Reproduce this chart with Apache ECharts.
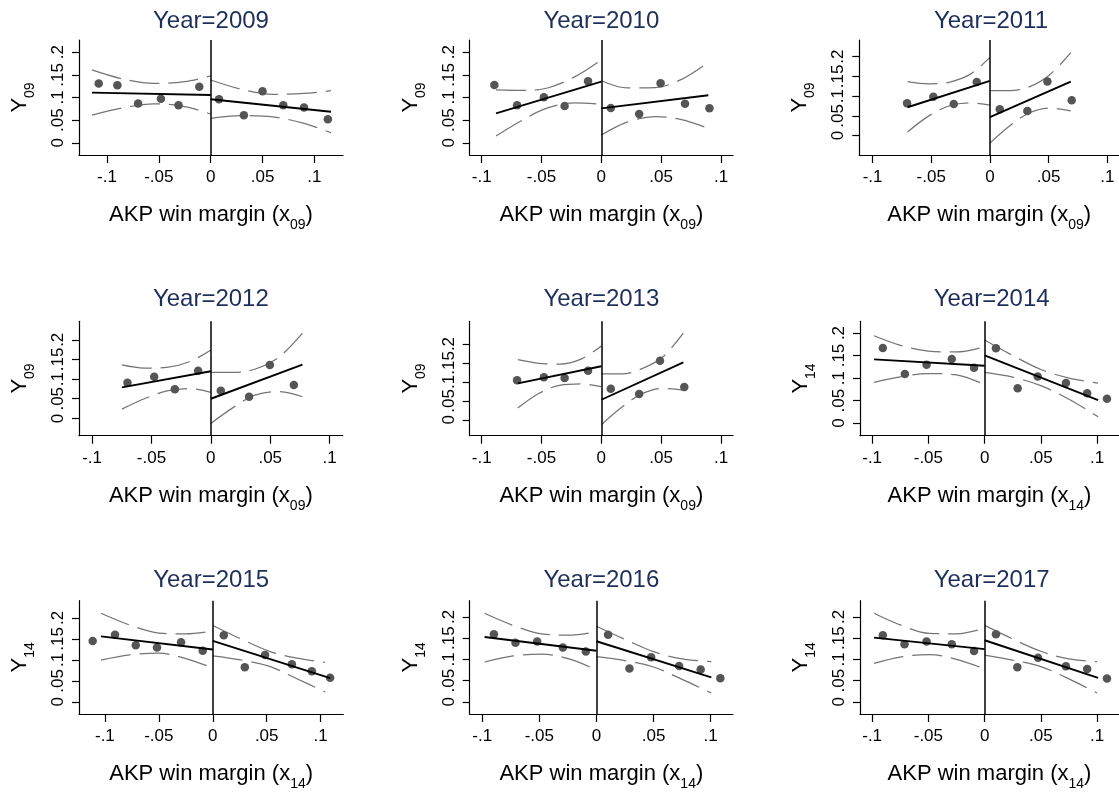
<!DOCTYPE html>
<html><head><meta charset="utf-8">
<script src="https://cdn.jsdelivr.net/npm/echarts@6/dist/echarts.min.js"></script>
<style>html,body{margin:0;padding:0;background:#fff}#c{width:1119px;height:792px}</style>
</head><body><div id="c"></div>
<script>
// ---------------- DATA ----------------
const years = ['2009','2010','2011','2012','2013','2014','2015','2016','2017'];
const subs  = ['09','09','09','09','09','14','14','14','14'];
const xTicks = [-0.1, -0.05, 0, 0.05, 0.1];
const yTicks = [0, 0.05, 0.1, 0.15, 0.2];

// 2009
const pts2009 = [[-0.108,0.131],[-0.090,0.127],[-0.070,0.087],[-0.048,0.097],[-0.031,0.083],[-0.011,0.124],[0.008,0.096],[0.032,0.061],[0.050,0.114],[0.070,0.083],[0.090,0.078],[0.113,0.052]];
const fitL2009 = [[-0.1145,0.1107],[0,0.1055]];
const fitR2009 = [[0,0.096],[0.116,0.0686]];
const upL2009 = [[-0.1145,0.161],[-0.085,0.141],[-0.055,0.131],[-0.025,0.135],[0,0.1476]];
const loL2009 = [[-0.1145,0.0613],[-0.085,0.077],[-0.055,0.086],[-0.025,0.080],[0,0.0635]];
const upR2009 = [[0,0.1387],[0.03,0.118],[0.06,0.107],[0.09,0.109],[0.116,0.115]];
const loR2009 = [[0,0.054],[0.03,0.060],[0.06,0.057],[0.09,0.043],[0.116,0.022]];
// 2010
const pts2010 = [[-0.0894,0.1277],[-0.0704,0.0827],[-0.048,0.1004],[-0.0307,0.0812],[-0.0111,0.1358],[0.0079,0.0768],[0.0316,0.0635],[0.0495,0.1314],[0.0699,0.0863],[0.0903,0.0761]];
const fitL2010 = [[-0.088,0.065],[0,0.135]];
const fitR2010 = [[0,0.0761],[0.0894,0.1049]];
const upL2010 = [[-0.088,0.1166],[-0.066,0.1155],[-0.045,0.121],[-0.022,0.146],[0,0.183]];
const loL2010 = [[-0.088,0.0148],[-0.066,0.050],[-0.045,0.077],[-0.022,0.088],[0,0.085]];
const upR2010 = [[0,0.137],[0.022,0.121],[0.045,0.122],[0.067,0.140],[0.0894,0.178]];
const loR2010 = [[0,0.017],[0.022,0.046],[0.045,0.058],[0.067,0.051],[0.0894,0.0318]];
// 2011
const pts2011 = [[-0.0706,0.082],[-0.0482,0.0987],[-0.0308,0.080],[-0.0112,0.136],[0.0084,0.0668],[0.0319,0.0625],[0.049,0.1367],[0.0697,0.0896]];
const fitL2011 = [[-0.0702,0.0719],[0,0.1385]];
const fitR2011 = [[0,0.0466],[0.0689,0.1367]];
const upL2011 = [[-0.0702,0.1367],[-0.052,0.131],[-0.035,0.135],[-0.017,0.155],[0,0.198]];
const loL2011 = [[-0.0702,0.0094],[-0.052,0.050],[-0.035,0.075],[-0.017,0.083],[0,0.077]];
const upR2011 = [[0,0.114],[0.017,0.114],[0.034,0.124],[0.051,0.154],[0.0689,0.21]];
const loR2011 = [[0,-0.019],[0.017,0.025],[0.034,0.058],[0.051,0.070],[0.0689,0.0625]];
// 2012
const pts2012 = [[-0.0702,0.0908],[-0.0477,0.106],[-0.0303,0.074],[-0.0107,0.1214],[0.0084,0.0704],[0.0322,0.0551],[0.0497,0.136],[0.0699,0.085]];
const fitL2012 = [[-0.0749,0.079],[0,0.1199]];
const fitR2012 = [[0,0.050],[0.0771,0.1367]];
const upL2012 = [[-0.0749,0.136],[-0.056,0.128],[-0.037,0.130],[-0.018,0.144],[0,0.1742]];
const loL2012 = [[-0.0749,0.0237],[-0.056,0.050],[-0.037,0.070],[-0.018,0.076],[0,0.0663]];
const upR2012 = [[0,0.1173],[0.019,0.117],[0.037,0.125],[0.057,0.155],[0.0771,0.2168]];
const loR2012 = [[0,-0.0128],[0.019,0.028],[0.037,0.059],[0.057,0.068],[0.0771,0.0551]];
// 2013
const pts2013 = [[-0.0704,0.1042],[-0.048,0.1122],[-0.0307,0.1103],[-0.0111,0.1296],[0.0079,0.082],[0.0316,0.068],[0.049,0.156],[0.0693,0.0865]];
const fitL2013 = [[-0.0698,0.0963],[0,0.1413]];
const fitR2013 = [[0,0.0529],[0.0685,0.1518]];
const upL2013 = [[-0.0698,0.1587],[-0.052,0.149],[-0.035,0.147],[-0.017,0.160],[0,0.195]];
const loL2013 = [[-0.0698,0.031],[-0.052,0.070],[-0.035,0.091],[-0.017,0.095],[0,0.0873]];
const upR2013 = [[0,0.121],[0.017,0.121],[0.034,0.135],[0.051,0.165],[0.0685,0.2286]];
const loR2013 = [[0,-0.013],[0.017,0.033],[0.034,0.069],[0.051,0.083],[0.0685,0.0786]];
// 2014
const pts2014 = [[-0.0905,0.1667],[-0.0709,0.1089],[-0.0516,0.1296],[-0.0292,0.1422],[-0.0094,0.1229],[0.0101,0.166],[0.0294,0.0771],[0.0472,0.1037],[0.0723,0.0889],[0.0912,0.066],[0.1088,0.054]];
const fitL2014 = [[-0.0983,0.1415],[0,0.1274]];
const fitR2014 = [[0,0.1504],[0.1009,0.0511]];
const upL2014 = [[-0.0983,0.194],[-0.074,0.172],[-0.05,0.160],[-0.025,0.158],[0,0.1696]];
const loL2014 = [[-0.0983,0.0904],[-0.074,0.103],[-0.05,0.110],[-0.025,0.107],[0,0.0852]];
const upR2014 = [[0,0.1844],[0.025,0.150],[0.05,0.119],[0.075,0.100],[0.1009,0.0889]];
const loR2014 = [[0,0.1126],[0.025,0.102],[0.05,0.083],[0.075,0.053],[0.1009,0.014]];
// 2015
const pts2015 = [[-0.1113,0.1451],[-0.0906,0.160],[-0.0714,0.1349],[-0.0517,0.1294],[-0.0294,0.1419],[-0.0093,0.1216],[0.0102,0.1584],[0.0297,0.0824],[0.0485,0.1114],[0.0733,0.0894],[0.0918,0.073],[0.1088,0.0573]];
const fitL2015 = [[-0.1036,0.156],[0,0.1247]];
const fitR2015 = [[0,0.1451],[0.1088,0.0565]];
const upL2015 = [[-0.1036,0.211],[-0.077,0.183],[-0.05,0.164],[-0.025,0.162],[0,0.1686]];
const loL2015 = [[-0.1036,0.0996],[-0.077,0.112],[-0.05,0.116],[-0.025,0.103],[0,0.0808]];
const upR2015 = [[0,0.182],[0.026,0.150],[0.052,0.121],[0.078,0.104],[0.1042,0.0941]];
const loR2015 = [[0,0.1098],[0.026,0.100],[0.052,0.085],[0.078,0.055],[0.1042,0.0235]];
// 2016
const pts2016 = [[-0.0898,0.1588],[-0.0709,0.1388],[-0.0519,0.1419],[-0.0294,0.1279],[-0.0093,0.1186],[0.0102,0.1581],[0.0289,0.0783],[0.0479,0.1047],[0.0724,0.0845],[0.0913,0.076],[0.1085,0.0558]];
const fitL2016 = [[-0.098,0.1527],[0,0.1202]];
const fitR2016 = [[0,0.1426],[0.1006,0.0574]];
const upL2016 = [[-0.098,0.2085],[-0.073,0.180],[-0.048,0.160],[-0.024,0.157],[0,0.165]];
const loL2016 = [[-0.098,0.0938],[-0.073,0.108],[-0.048,0.112],[-0.024,0.101],[0,0.0752]];
const upR2016 = [[0,0.178],[0.025,0.147],[0.05,0.118],[0.075,0.101],[0.1006,0.0946]];
const loR2016 = [[0,0.1062],[0.025,0.097],[0.05,0.082],[0.075,0.053],[0.1006,0.0209]];
// 2017
const pts2017 = [[-0.0905,0.1566],[-0.0712,0.1357],[-0.0516,0.1419],[-0.0292,0.1357],[-0.0094,0.1194],[0.0101,0.1589],[0.0291,0.0814],[0.0475,0.104],[0.0723,0.0837],[0.0912,0.0775],[0.1088,0.055]];
const fitL2017 = [[-0.0983,0.151],[0,0.124]];
const fitR2017 = [[0,0.145],[0.1009,0.0566]];
const upL2017 = [[-0.0983,0.2085],[-0.074,0.180],[-0.049,0.161],[-0.025,0.160],[0,0.1729]];
const loL2017 = [[-0.0983,0.0907],[-0.074,0.106],[-0.049,0.111],[-0.025,0.100],[0,0.0775]];
const upR2017 = [[0,0.1798],[0.025,0.148],[0.05,0.119],[0.075,0.101],[0.100,0.0946]];
const loR2017 = [[0,0.110],[0.025,0.098],[0.05,0.083],[0.075,0.054],[0.100,0.0209]];

const panelData = [
  [pts2009, fitL2009, fitR2009, upL2009, loL2009, upR2009, loR2009],
  [pts2010, fitL2010, fitR2010, upL2010, loL2010, upR2010, loR2010],
  [pts2011, fitL2011, fitR2011, upL2011, loL2011, upR2011, loR2011],
  [pts2012, fitL2012, fitR2012, upL2012, loL2012, upR2012, loR2012],
  [pts2013, fitL2013, fitR2013, upL2013, loL2013, upR2013, loR2013],
  [pts2014, fitL2014, fitR2014, upL2014, loL2014, upR2014, loR2014],
  [pts2015, fitL2015, fitR2015, upL2015, loL2015, upR2015, loR2015],
  [pts2016, fitL2016, fitR2016, upL2016, loL2016, upR2016, loR2016],
  [pts2017, fitL2017, fitR2017, upL2017, loL2017, upR2017, loR2017]
];

// ---------------- LAYOUT ----------------
// [left, top, width, height, xMin, xMax, yMin, yMax]
const layout = [
  [79,    40,    264,   115,   -0.127,  0.1276, -0.027, 0.227],
  [469.7, 40,    263.3, 115,   -0.110,  0.110,  -0.027, 0.227],
  [859.3, 40,    263.3, 115,   -0.1113, 0.110,  -0.049, 0.242],
  [79,    321.3, 263.7, 114.4, -0.111,  0.111,  -0.044, 0.247],
  [469.7, 321.3, 263.3, 114.4, -0.110,  0.110,  -0.042, 0.260],
  [860,   321.3, 263.3, 114.4, -0.1108, 0.1195, -0.028, 0.226],
  [79,    600.7, 264.3, 114.6, -0.124,  0.121,  -0.029, 0.241],
  [469.7, 600.7, 263.3, 114.6, -0.111,  0.1196, -0.0286, 0.238],
  [860,   600.7, 263.3, 114.6, -0.1108, 0.1195, -0.0286, 0.238]
];
const titleY = [21.7, 299.8, 580.8];

const FONT = '"Liberation Sans", Arial, Helvetica, sans-serif';
const fmt = v => v === 0 ? '0' : (v < 0 ? '-' : '') + String(Math.abs(v)).replace(/^0/, '');
const subRich = { s: { fontSize: 14, lineHeight: 34, verticalAlign: 'bottom', fontFamily: FONT, color: '#000' } };

const grids = [], xAxes = [], yAxes = [], series = [], graphics = [];
layout.forEach((L, i) => {
  const [left, top, width, height, xMin, xMax, yMin, yMax] = L;
  grids.push({ left, top, width, height, containLabel: false });
  xAxes.push({
    type: 'value', gridIndex: i, min: xMin, max: xMax,
    axisLine: { onZero: false, lineStyle: { color: '#000', width: 1.2 } },
    axisTick: { show: true, length: 8, customValues: xTicks, lineStyle: { color: '#000', width: 1.2 } },
    axisLabel: { customValues: xTicks, formatter: fmt, fontSize: 17, fontFamily: FONT, color: '#000', margin: 14 },
    splitLine: { show: false },
    name: 'AKP win margin (x{s|' + subs[i] + '})', nameLocation: 'middle', nameGap: 43,
    nameTextStyle: { fontSize: 22, fontFamily: FONT, color: '#000', rich: subRich }
  });
  yAxes.push({
    type: 'value', gridIndex: i, min: yMin, max: yMax,
    axisLine: { onZero: false, lineStyle: { color: '#000', width: 1.2 } },
    axisTick: { show: true, length: 7, customValues: yTicks, lineStyle: { color: '#000', width: 1.2 } },
    axisLabel: { customValues: yTicks, formatter: fmt, fontSize: 17, fontFamily: FONT, color: '#000', rotate: 90, margin: 12 },
    splitLine: { show: false },
    name: 'Y{s|' + subs[i] + '}', nameLocation: 'middle', nameGap: 42, nameRotate: 90,
    nameTextStyle: { fontSize: 22, fontFamily: FONT, color: '#000', rich: subRich }
  });
  const [pts, fitL, fitR, upL, loL, upR, loR] = panelData[i];
  const ci = d => ({ type: 'line', xAxisIndex: i, yAxisIndex: i, data: d, smooth: 0.35, symbol: 'none',
    lineStyle: { color: '#747474', width: 1.25, type: [30, 9] }, z: 2, silent: true });
  const fit = d => ({ type: 'line', xAxisIndex: i, yAxisIndex: i, data: d, symbol: 'none',
    lineStyle: { color: '#000', width: 1.9 }, z: 4, silent: true });
  series.push({
    type: 'scatter', xAxisIndex: i, yAxisIndex: i, data: pts, symbolSize: 8.5,
    itemStyle: { color: '#555555', opacity: 1 }, z: 3,
    markLine: { silent: true, symbol: ['none', 'none'], label: { show: false },
      lineStyle: { color: '#000', width: 1.5, type: 'solid' }, data: [{ xAxis: 0 }] }
  });
  series.push(fit(fitL), fit(fitR), ci(upL), ci(loL), ci(upR), ci(loR));
  graphics.push({
    type: 'text', x: left + width / 2, y: titleY[Math.floor(i / 3)],
    style: { text: 'Year=' + years[i], font: '24px ' + FONT, fill: '#1f2f5c', align: 'center', verticalAlign: 'middle' }
  });
});

const chart = echarts.init(document.getElementById('c'), null, { renderer: 'canvas' });
chart.setOption({
  animation: false,
  backgroundColor: '#fff',
  grid: grids, xAxis: xAxes, yAxis: yAxes, series: series, graphic: graphics
});
</script></body></html>
